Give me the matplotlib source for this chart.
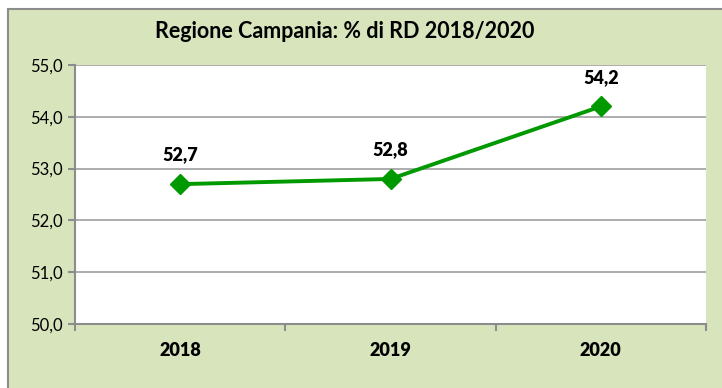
import matplotlib.pyplot as plt
from matplotlib.patches import Rectangle

# Percentuale di raccolta differenziata in Campania
anni = ['2018', '2019', '2020']
percentuale_rd = [52.7, 52.8, 54.2]
etichette_y = ['50,0', '51,0', '52,0', '53,0', '54,0', '55,0']
valori_y = [50, 51, 52, 53, 54, 55]

verde_sfondo = '#d8e4bc'
verde_linea = '#009900'
grigio = '#8c8c8c'

plt.rcParams['font.family'] = ['Lato', 'DejaVu Sans']

fig = plt.figure(figsize=(7.22, 3.88), dpi=100, facecolor='white')

# Cornice verde del grafico
fig.patches.append(Rectangle((8 / 722, -0.1), 1.0, 1 - 9 / 388 + 0.1,
                             transform=fig.transFigure, facecolor=verde_sfondo,
                             edgecolor=grigio, linewidth=1.5, zorder=-10))

ax = fig.add_axes([75 / 722, 64 / 388, 631 / 722, 259 / 388])
ax.set_facecolor('white')

x = range(len(anni))
ax.plot(x, percentuale_rd, color=verde_linea, linewidth=2.8, marker='D',
        markersize=10.5, zorder=3)

for i, v in enumerate(percentuale_rd):
    ax.annotate(f'{v:.1f}'.replace('.', ','), (i, v), xytext=(0, 21),
                textcoords='offset points', ha='center', va='center',
                fontsize=13, fontweight='heavy')

ax.set_xlim(-0.5, 2.5)
ax.set_ylim(50, 55)
ax.set_yticks(valori_y)
ax.set_yticklabels(etichette_y, fontsize=12)
ax.set_xticks([-0.5, 0.5, 1.5, 2.5])
ax.set_xticklabels([])
ax.set_xticks(list(x), minor=True)
ax.set_xticklabels(anni, minor=True, fontsize=13, fontweight='heavy')
ax.tick_params(axis='x', which='minor', length=0, pad=13)
ax.tick_params(axis='x', which='major', length=5, color=grigio, width=1.5)
ax.tick_params(axis='y', length=5, color=grigio, width=1.5, pad=4)

ax.grid(axis='y', color='#a6a6a6', linewidth=1.3)
ax.set_axisbelow(True)
for lato in ['top', 'right']:
    ax.spines[lato].set_visible(False)
for lato in ['left', 'bottom']:
    ax.spines[lato].set_color(grigio)
    ax.spines[lato].set_linewidth(1.5)

fig.text(345 / 722, 1 - 32 / 388, 'Regione Campania: % di RD 2018/2020',
         ha='center', va='center', fontsize=15.5, fontweight='bold')

fig.savefig('out.png', dpi=100, facecolor='white')
